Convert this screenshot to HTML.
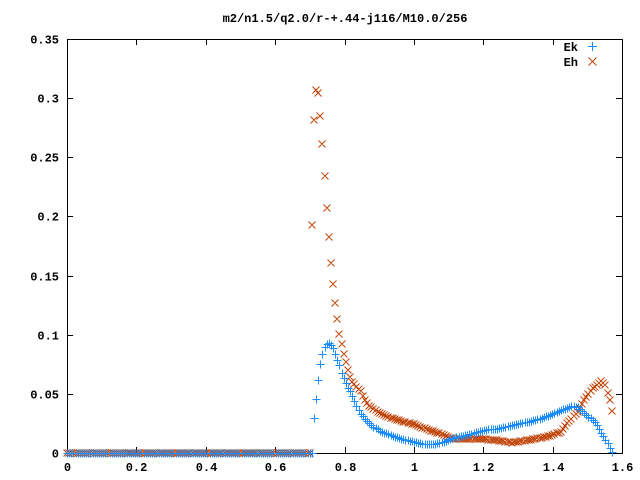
<!DOCTYPE html>
<html><head><meta charset="utf-8"><style>
html,body{margin:0;padding:0;background:#fff;}
svg{display:block;font-family:"Liberation Mono",monospace;font-size:12px;font-weight:bold;}
</style></head><body>
<svg id="chart" width="640" height="480" viewBox="0 0 640 480" xmlns="http://www.w3.org/2000/svg">
<rect x="0" y="0" width="640" height="480" fill="#fff"/>
<text x="345" y="22" text-anchor="middle" fill="#000">m2/n1.5/q2.0/r-+.44-j116/M10.0/256</text>
<g id="axes"></g>
<g id="series"></g>
<g>
<text x="578" y="51" text-anchor="end" fill="#000">Ek</text>
<text x="578" y="66" text-anchor="end" fill="#000">Eh</text>
<g stroke="#1a8cff" stroke-width="1"><line x1="588" y1="46.5" x2="597" y2="46.5"/><line x1="592.5" y1="42" x2="592.5" y2="51"/></g>
<g stroke="#c0440a" stroke-width="1"><line x1="588.5" y1="57.5" x2="596.5" y2="65.5"/><line x1="588.5" y1="65.5" x2="596.5" y2="57.5"/></g>
</g>
</svg>
<script>
const xTicks=[0,0.2,0.4,0.6,0.8,1.0,1.2,1.4,1.6];
const xTickLabels=["0","0.2","0.4","0.6","0.8","1","1.2","1.4","1.6"];
const yTicks=[0,0.05,0.1,0.15,0.2,0.25,0.3,0.35];
const yTickLabels=["0","0.05","0.1","0.15","0.2","0.25","0.3","0.35"];
const nPoints=257;
const xMaxData=1.5708;
const zeros115=[0,0,0,0,0,0,0,0,0,0,0,0,0,0,0,0,0,0,0,0,0,0,0,0,0,0,0,0,0,0,0,0,0,0,0,0,0,0,0,0,0,0,0,0,0,0,0,0,0,0,0,0,0,0,0,0,0,0,0,0,0,0,0,0,0,0,0,0,0,0,0,0,0,0,0,0,0,0,0,0,0,0,0,0,0,0,0,0,0,0,0,0,0,0,0,0,0,0,0,0,0,0,0,0,0,0,0,0,0,0,0,0,0,0,0];
const ekTail=[0,.030,.046,.062,.075,.084,.090,.092,.093,.091,.089,.084,.079,.074,.068,.063,.059,.055,.052,.048,.044,.040,.036,.033,.031,.029,.027,.025,.0235,.022,.021,.020,.019,.018,.0172,.0165,.0158,.0151,.0144,.0138,.0132,.0127,.0121,.0116,.0112,.0108,.0104,.0100,.0096,.0091,.0086,.0081,.0077,.0076,.0075,.0075,.0076,.0077,.0080,.0084,.0088,.0092,.0096,.0102,.0110,.0117,.0124,.0130,.0135,.0139,.0143,.0147,.0150,.0153,.0158,.0164,.0170,.0176,.0181,.0186,.0190,.0194,.0197,.0200,.0201,.0202,.0203,.0205,.0209,.0213,.0217,.0221,.0225,.0229,.0233,.0237,.0241,.0245,.0250,.0254,.0258,.0262,.0266,.0270,.0275,.0280,.0285,.0291,.0297,.0303,.0309,.0314,.0320,.0328,.0336,.0344,.0352,.0360,.0368,.0376,.0384,.0392,.0400,.0398,.0393,.0386,.0372,.0356,.0340,.0320,.0307,.0293,.0279,.0265,.0235,.0200,.0167,.0140,.0110,.0082,.0045,.0010];
const ehTail=[.193,.2815,.307,.304,.285,.261,.234,.207,.183,.161,.143,.1265,.113,.101,.092,.084,.077,.070,.064,.060,.058,.056,.054,.052,.048,.045,.042,.040,.0385,.037,.036,.035,.034,.033,.032,.031,.0305,.0300,.0294,.0288,.0282,.0276,.0270,.0265,.0260,.0256,.0251,.0246,.0242,.0237,.0230,.0223,.0215,.0208,.0201,.0194,.0188,.0183,.0177,.0172,.0166,.0160,.0153,.0146,.0139,.0131,.0124,.0122,.0121,.0120,.0119,.0118,.0117,.0116,.0116,.0116,.0116,.0116,.0116,.0116,.0116,.0116,.0116,.0114,.0112,.0110,.0108,.0106,.0104,.0101,.0098,.0095,.0092,.0089,.0087,.0090,.0093,.0096,.0099,.0102,.0105,.0108,.0111,.0114,.0116,.0120,.0123,.0127,.0130,.0134,.0137,.0141,.0144,.0151,.0158,.0166,.0173,.0180,.0203,.0227,.0250,.0270,.0290,.0310,.0330,.0350,.0383,.0417,.0450,.0474,.0498,.0522,.0546,.0562,.0578,.0594,.0610,.0595,.0575,.0510,.0450,.0357];
const ekValues=zeros115.concat(ekTail);
const ehValues=zeros115.concat(ehTail);

const L=67,R=622,T=39,B=453;
const X0=0,X1=1.6,Y0=0,Y1=0.35;
function sx(v){return L+(v-X0)/(X1-X0)*(R-L);}
function sy(v){return B-(v-Y0)/(Y1-Y0)*(B-T);}
function xAt(i){return i*xMaxData/(nPoints-1);}
const NS="http://www.w3.org/2000/svg";
function mk(tag,attrs,parent){const e=document.createElementNS(NS,tag);for(const k in attrs)e.setAttribute(k,attrs[k]);parent.appendChild(e);return e;}
const axes=document.getElementById('axes');
const frame=mk('rect',{x:L+0.5,y:T+0.5,width:R-L,height:B-T,fill:'none',stroke:'#000','stroke-width':1},axes);


xTicks.forEach((t,k)=>{
  const x=Math.round(sx(t))+0.5;
  const tk=mk('path',{d:`M${x} ${B}v-6M${x} ${T}v6`,stroke:'#000','stroke-width':1},axes);
  
  
  const lb=mk('text',{x:x,y:B+18,'text-anchor':'middle',fill:'#000'},axes);
  lb.textContent=xTickLabels[k];
  
  
});
yTicks.forEach((t,k)=>{
  const y=Math.round(sy(t))+0.5;
  const tk=mk('path',{d:`M${L} ${y}h6M${R} ${y}h-6`,stroke:'#000','stroke-width':1},axes);
  
  
  const lb=mk('text',{x:L-8,y:y+4,'text-anchor':'end',fill:'#000'},axes);
  lb.textContent=yTickLabels[k];
  
  
});
const series=document.getElementById('series');
const gEk=mk('g',{stroke:'#1a8cff','stroke-width':1,fill:'none'},series);


const gEh=mk('g',{stroke:'#c0440a','stroke-width':1,fill:'none'},series);


let dEk='',dEh='';
for(let i=0;i<ekValues.length;i++){
  const x=Math.round(sx(xAt(i)))+0.5,y=Math.round(sy(ekValues[i]))+0.5;
  dEk+=`M${x-4} ${y}h8M${x} ${y-4}v8`;
}
for(let i=0;i<ehValues.length;i++){
  const x=Math.round(sx(xAt(i))),y=Math.round(sy(ehValues[i]));
  dEh+=`M${x-3.5} ${y-3.5}l7 7M${x-3.5} ${y+3.5}l7 -7`;
}
const pEh=mk('path',{d:dEh},gEh);


const pEk=mk('path',{d:dEk},gEk);


series.appendChild(gEk);
</script>
</body></html>
